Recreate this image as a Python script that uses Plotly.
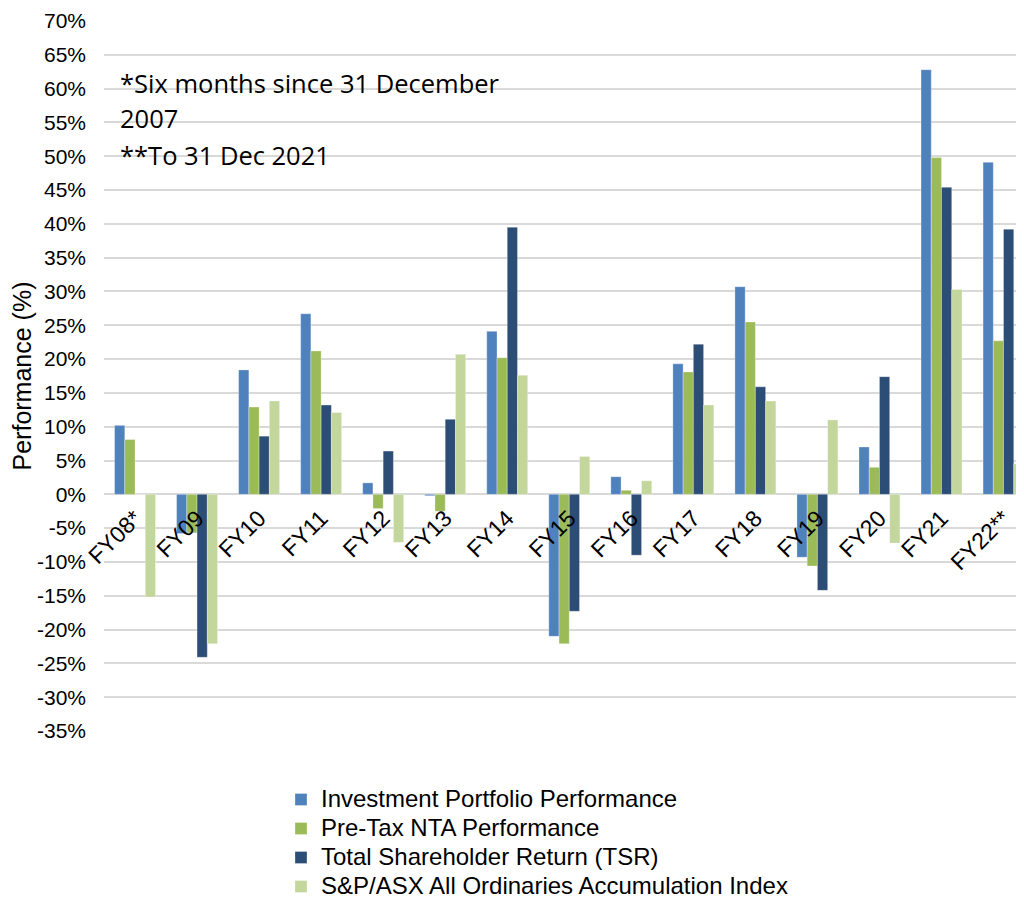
import plotly.graph_objects as go

categories = ["FY08*", "FY09", "FY10", "FY11", "FY12", "FY13", "FY14", "FY15",
              "FY16", "FY17", "FY18", "FY19", "FY20", "FY21", "FY22**"]
portfolio = [10.2, -5.8, 18.4, 26.7, 1.7, -0.2, 24.1, -21.0, 2.6, 19.3, 30.7, -9.3, 7.0, 62.8, 49.1]
pretax_nta = [8.1, -5.7, 12.9, 21.2, -2.1, -2.5, 20.2, -22.1, 0.6, 18.1, 25.5, -10.6, 4.0, 49.8, 22.7]
tsr = [0.0, -24.1, 8.6, 13.2, 6.4, 11.1, 39.5, -17.3, -9.0, 22.2, 15.9, -14.2, 17.4, 45.4, 39.2]
index_all_ords = [-15.2, -22.1, 13.8, 12.1, -7.1, 20.7, 17.6, 5.6, 2.0, 13.2, 13.8, 11.0, -7.2, 30.3, 4.5]
y_ticks = list(range(-35, 75, 5))
notes = ["*Six months since 31 December", "2007", "**To 31 Dec 2021"]

series = [
    ("Investment Portfolio Performance", portfolio, "#4F81BD"),
    ("Pre-Tax NTA Performance", pretax_nta, "#9BBB59"),
    ("Total Shareholder Return (TSR)", tsr, "#2C4D75"),
    ("S&P/ASX All Ordinaries Accumulation Index", index_all_ords, "#C3D69B"),
]

fig = go.Figure()
for name, vals, color in series:
    fig.add_trace(go.Bar(
        x=categories, y=vals,
        name=f'<span style="font-size:24px">{name}</span>',
        marker=dict(color=color, line=dict(color="rgba(255,255,255,0.6)", width=0.5)),
    ))

font = "Liberation Sans, Arial, sans-serif"
zero_pos = (0 - y_ticks[0]) / (y_ticks[-1] - y_ticks[0])

# page body has an 8px margin, so the figure is 8px smaller than the window
W, H = 1016, 890
L, T, B = 96, 13, 167
plot_w, plot_h = W - L, H - T - B

fig.update_layout(
    width=W, height=H,
    margin=dict(l=L, r=0, t=T, b=B, autoexpand=False),
    paper_bgcolor="white", plot_bgcolor="white",
    barmode="group", bargap=0.34, bargroupgap=0,
    font=dict(family=font, color="#000000"),
    showlegend=True,
    legend=dict(
        orientation="v", x=(273 - L) / plot_w, xanchor="left",
        y=-(772 - (H - B)) / plot_h, yanchor="top",
        font=dict(size=20, family=font, color="#000000"),
        tracegroupgap=0, itemwidth=30, bgcolor="rgba(0,0,0,0)",
    ),
    xaxis=dict(
        type="category", range=[-0.5, 14.33],
        anchor="free", position=zero_pos,
        tickangle=-45, tickfont=dict(size=23, family=font, color="#000000"),
        showgrid=False, showline=False, ticks="", ticklabelstandoff=5,
    ),
    yaxis=dict(
        range=[y_ticks[0], y_ticks[-1]], tickvals=y_ticks,
        ticktext=[f"{v}%" for v in y_ticks],
        tickfont=dict(size=21, family=font, color="#000000"),
        showgrid=True, gridcolor="#D9D9D9", gridwidth=2,
        zeroline=True, zerolinecolor="#D9D9D9", zerolinewidth=2,
        showline=False, ticks="", ticklabelstandoff=17,
        title=dict(text="Performance (%)", font=dict(size=25, family=font, color="#000000"), standoff=3),
    ),
)

note_y = [75, 110, 147]
for txt, py in zip(notes, note_y):
    fig.add_annotation(
        text=txt, x=(110 - L) / plot_w, xref="paper", xanchor="left",
        y=((H - B) - py) / plot_h, yref="paper", yanchor="middle",
        showarrow=False, font=dict(size=25.5, family="Open Sans, sans-serif", color="#000000"),
    )

fig.write_html("out.html")
